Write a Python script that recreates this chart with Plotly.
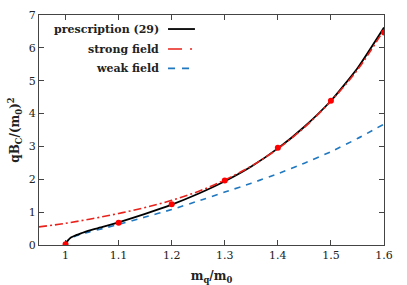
import plotly.graph_objects as go

# prescription (29)
x_presc = [1.0, 1.002, 1.005, 1.0095, 1.02, 1.03, 1.044, 1.07, 1.1, 1.15, 1.2, 1.25, 1.3, 1.35, 1.4, 1.45, 1.5, 1.55, 1.6]
y_presc = [0.0, 0.09, 0.15, 0.22, 0.3, 0.36, 0.44, 0.55, 0.69, 0.95, 1.23, 1.56, 1.94, 2.39, 2.94, 3.6, 4.39, 5.38, 6.62]

# strong field
x_strong = [0.95, 1.0, 1.05, 1.1, 1.15, 1.2, 1.25, 1.3, 1.35, 1.4, 1.45, 1.5, 1.55, 1.6]
y_strong = [0.55, 0.66, 0.8, 0.96, 1.14, 1.36, 1.63, 1.98, 2.4, 2.93, 3.58, 4.38, 5.33, 6.55]

# weak field
x_weak = [1.0, 1.002, 1.005, 1.01, 1.02, 1.03, 1.045, 1.07, 1.1, 1.15, 1.2, 1.25, 1.3, 1.35, 1.4, 1.45, 1.5, 1.55, 1.6]
y_weak = [0.0, 0.08, 0.14, 0.21, 0.28, 0.33, 0.4, 0.5, 0.63, 0.85, 1.08, 1.34, 1.61, 1.88, 2.17, 2.49, 2.84, 3.24, 3.68]

# data points
x_pts = [1.0, 1.1, 1.2, 1.3, 1.4, 1.5, 1.6]
y_pts = [0.02, 0.68, 1.24, 1.96, 2.96, 4.39, 6.47]

legend_names = ["prescription (29)", "strong field", "weak field"]

BLACK = "#000000"
RED = "#e8221b"
BLUE = "#1f78c0"
FONT = "DejaVu Serif"
RED_DASH = "8px,3px,2px,3px"
BLUE_DASH = "6px,6px"

fig = go.Figure()
fig.add_trace(go.Scatter(x=x_weak, y=y_weak, mode="lines", line=dict(color=BLUE, width=1.6, dash=BLUE_DASH, shape="spline", smoothing=0.5), showlegend=False))
fig.add_trace(go.Scatter(x=x_presc, y=y_presc, mode="lines", line=dict(color=BLACK, width=1.8, shape="spline", smoothing=0.5), showlegend=False))
fig.add_trace(go.Scatter(x=x_strong, y=y_strong, mode="lines", line=dict(color=RED, width=1.6, dash=RED_DASH, shape="spline"), showlegend=False))
fig.add_trace(go.Scatter(x=x_pts, y=y_pts, mode="markers", marker=dict(color="#ff0000", size=6), showlegend=False))

# manual legend (text right-aligned, sample line on the right)
styles = [dict(color=BLACK, width=1.8), dict(color=RED, width=1.6, dash="14px,8px,2px,6px"), dict(color=BLUE, width=1.6, dash="7px,7px")]
ys = [0.939, 0.852, 0.768]
for name, st, yy in zip(legend_names, styles, ys):
    fig.add_annotation(x=0.354, y=yy, xref="paper", yref="paper", text="<b>" + name + "</b>",
                       showarrow=False, xanchor="right", yanchor="middle",
                       font=dict(family=FONT, size=11, color="#222"))
    fig.add_shape(type="line", xref="paper", yref="paper", x0=0.374, x1=0.452, y0=yy, y1=yy, line=st)

axis_common = dict(showline=True, linecolor="#444", linewidth=1, mirror="ticks", ticks="inside",
                   ticklen=5, tickcolor="#444", showgrid=False, zeroline=False, automargin=False,
                   tickfont=dict(family=FONT, size=11, color="#222"))

fig.update_layout(
    width=407, height=285,
    margin=dict(l=39, r=23, t=15, b=40),
    plot_bgcolor="white", paper_bgcolor="white",
    xaxis=dict(range=[0.95, 1.6], tickvals=[1, 1.1, 1.2, 1.3, 1.4, 1.5, 1.6],
               ticktext=["1", "1.1", "1.2", "1.3", "1.4", "1.5", "1.6"],
               title=dict(text="<b>m<sub>q</sub>/m<sub>0</sub></b>", font=dict(family=FONT, size=12, color="#222"), standoff=12),
               **axis_common),
    yaxis=dict(range=[0, 7], tickvals=[0, 1, 2, 3, 4, 5, 6, 7],
               title=dict(text="<b>qB<sub>C</sub>/(m<sub>0</sub>)<sup>2</sup></b>", font=dict(family=FONT, size=12, color="#222"), standoff=6),
               **axis_common),
)

fig.write_html("out.html", config={"displayModeBar": False},
               post_script="document.body.style.margin='0';document.body.style.overflow='hidden';")
